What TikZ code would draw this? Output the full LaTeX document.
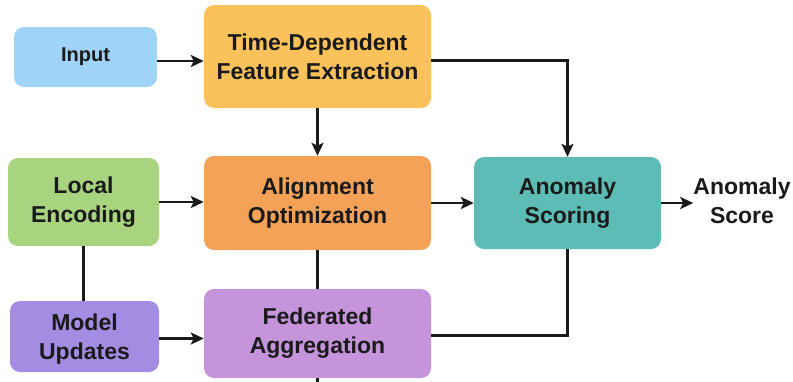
\documentclass[tikz,border=0pt]{standalone}
\usepackage{fontspec}
\setmainfont{Liberation Sans}
\usetikzlibrary{arrows.meta}
\definecolor{cInput}{HTML}{9FD3F7}
\definecolor{cTDFE}{HTML}{FBC25C}
\definecolor{cLE}{HTML}{A9D47F}
\definecolor{cAO}{HTML}{F3A257}
\definecolor{cAS}{HTML}{5DBCB6}
\definecolor{cMU}{HTML}{A48CE3}
\definecolor{cFA}{HTML}{C594DA}
\definecolor{ink}{HTML}{1A1A1A}
\tikzset{
  box/.style={rounded corners=10pt, draw=none, align=center, text=ink,
    font=\bfseries\fontsize{23}{29}\selectfont, inner sep=0pt},
  conn/.style={draw=ink, line width=2.5pt},
  arr/.style={conn, -{Stealth[length=13pt,width=12pt,inset=3pt]}}
}
\begin{document}
\begin{tikzpicture}[x=1pt,y=-1pt]
\useasboundingbox (0,0) rectangle (793,381);
\node[box, fill=cInput, minimum width=143pt, minimum height=60pt,
  font=\bfseries\fontsize{20}{24}\selectfont] (in) at (85.5,57) {Input};
\node[box, fill=cTDFE, minimum width=227pt, minimum height=103pt] (tdfe) at (317.5,56.5) {Time-Dependent\\Feature Extraction};
\node[box, fill=cLE, minimum width=151pt, minimum height=88pt] (le) at (83.5,202) {Local\\Encoding};
\node[box, fill=cAO, minimum width=227pt, minimum height=94pt] (ao) at (317.5,203) {Alignment\\Optimization};
\node[box, fill=cAS, minimum width=187pt, minimum height=92pt] (as) at (567.5,203) {Anomaly\\Scoring};
\node[box, fill=none, text=ink] (out) at (742,201) {Anomaly\\Score};
\node[box, fill=cMU, minimum width=149pt, minimum height=71pt, text depth=-3pt] (mu) at (84.5,336.5) {Model\\Updates};
\node[box, fill=cFA, minimum width=227pt, minimum height=89pt] (fa) at (317.5,333.5) {Federated\\Aggregation};
\coordinate (stub) at (317.5,390);

\draw[arr] ([yshift=-4pt]in.east) -- ([yshift=-4pt]in.east -| tdfe.west);
\draw[arr] ([yshift=-4pt]tdfe.east) -| (as.north);
\draw[arr] (tdfe.south) -- (ao.north);
\draw[arr] (le.east) -- (le.east -| ao.west);
\draw[arr] (ao.east) -- (as.west);
\draw[arr] (as.east) -- (as.east -| out.west);
\draw[conn] (le.south) -- (le.south |- mu.north);
\draw[conn] (ao.south) -- (fa.north);
\draw[arr] ([yshift=-2pt]mu.east) -- ([yshift=-2pt]mu.east -| fa.west);
\draw[conn] ([yshift=-2pt]fa.east) -| (as.south);
\draw[conn] (fa.south) -- (stub);
\end{tikzpicture}
\end{document}
